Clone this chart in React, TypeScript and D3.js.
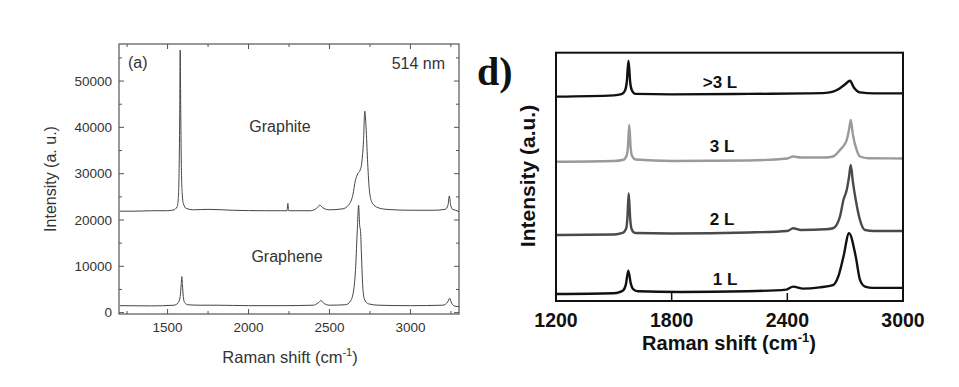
import React from 'react';
import * as d3 from 'd3';

// panel (a): graphite / graphene at 514 nm
const graphiteShift = [1205, 1300, 1400, 1500, 1540, 1558, 1566, 1571, 1575, 1578, 1581, 1585, 1590, 1598, 1615, 1660, 1750, 1900, 2100, 2238, 2243, 2248, 2380, 2420, 2440, 2460, 2500, 2580, 2620, 2645, 2660, 2675, 2690, 2700, 2710, 2718, 2726, 2735, 2745, 2760, 2790, 2850, 3000, 3150, 3215, 3232, 3240, 3248, 3260, 3280, 3300];
const graphiteIntensity = [21900, 21900, 22000, 22000, 22200, 22800, 24500, 30000, 42000, 56700, 45000, 32000, 26000, 23500, 22500, 22200, 22300, 22100, 22000, 22000, 23600, 22000, 22000, 22500, 23200, 22600, 22200, 22400, 23300, 25500, 28500, 30000, 30800, 32500, 37000, 43500, 40000, 33000, 27000, 24000, 22800, 22300, 22100, 22100, 22300, 23200, 25200, 23300, 22300, 22100, 21800];

const grapheneShift = [1205, 1400, 1540, 1565, 1578, 1584, 1588, 1592, 1597, 1605, 1625, 1700, 1800, 2000, 2200, 2400, 2430, 2448, 2465, 2500, 2600, 2630, 2650, 2662, 2672, 2680, 2686, 2692, 2698, 2705, 2715, 2740, 2800, 3000, 3200, 3230, 3242, 3255, 3275, 3300];
const grapheneIntensity = [1500, 1450, 1600, 2100, 3500, 6000, 7800, 6000, 3500, 2200, 1700, 1600, 1600, 1500, 1500, 1600, 2100, 2600, 2000, 1600, 1700, 2500, 5000, 10000, 18000, 23200, 19000, 17500, 12000, 6000, 3000, 1900, 1600, 1500, 1600, 2300, 3100, 2000, 1400, 1300];

const leftXTicks = [1500, 2000, 2500, 3000];
const leftYTicks = [0, 10000, 20000, 30000, 40000, 50000];

// panel (d): 1 L ... >3 L, arbitrary units, stacked
const layerLabels = ['1 L', '2 L', '3 L', '>3 L'];
const layerColors = ['#111', '#4a4a4a', '#9a9a9a', '#111'];

const shift1L = [1203, 1497, 1530, 1550, 1562, 1575, 1588, 1600, 1625, 1843, 2188, 2395, 2430, 2482, 2568, 2637, 2664, 2691, 2720, 2755, 2777, 2803, 2845, 3000];
const int1L = [2.8, 3.1, 3.6, 4.4, 6.5, 12.2, 7.0, 4.8, 3.9, 3.6, 3.9, 4.6, 5.8, 5.0, 5.5, 6.4, 9.8, 17.8, 27.3, 17.8, 8.5, 5.8, 5.3, 5.3];

const shift2L = [1203, 1500, 1545, 1563, 1570, 1577, 1585, 1592, 1610, 1800, 2200, 2400, 2430, 2470, 2600, 2637, 2673, 2691, 2708, 2720, 2729, 2740, 2755, 2777, 2803, 2850, 3000];
const int2L = [26.6, 26.8, 27.4, 29, 33, 43.4, 33, 29, 27.4, 27.2, 27.6, 28.2, 29.3, 28.6, 28.9, 29.3, 34, 40.7, 44.7, 50, 54.8, 48, 40.7, 32.6, 28.6, 28.2, 28.2];

const shift3L = [1203, 1500, 1550, 1566, 1573, 1580, 1587, 1594, 1612, 1800, 2200, 2400, 2430, 2470, 2600, 2637, 2673, 2708, 2720, 2729, 2740, 2760, 2777, 2820, 3000];
const int3L = [56.1, 56.4, 56.9, 58.5, 62, 70.9, 62, 58.5, 57, 56.4, 56.6, 57.4, 58.2, 57.8, 57.8, 58.2, 60.8, 64.8, 69, 72.9, 67, 60.8, 58.2, 57.5, 57.4];

const shift4L = [1203, 1500, 1540, 1558, 1567, 1576, 1585, 1594, 1612, 1800, 2200, 2500, 2600, 2637, 2673, 2700, 2725, 2745, 2777, 2850, 3000];
const int4L = [82.3, 82.8, 83.3, 84.8, 88, 96.8, 88, 84.8, 83.4, 83.2, 83.4, 83.6, 83.8, 84.3, 85.7, 87.3, 88.7, 86, 84, 83.6, 83.6];

const rightXTicks = [1200, 1800, 2400, 3000];

const layerData = [
  { shift: shift1L, intensity: int1L },
  { shift: shift2L, intensity: int2L },
  { shift: shift3L, intensity: int3L },
  { shift: shift4L, intensity: int4L },
];

const zip = (xs: number[], ys: number[]) => xs.map((x, i) => [x, ys[i]] as [number, number]);

function LeftPanel() {
  const x = d3.scaleLinear().domain([1200, 3300]).range([119, 459]);
  const y = d3.scaleLinear().domain([-300, 58000]).range([314, 44]);
  const line = d3.line<[number, number]>().x(d => x(d[0])).y(d => y(d[1])).curve(d3.curveMonotoneX);
  const font = 'Liberation Sans, Arial, sans-serif';
  const xMinor = d3.range(1250, 3300, 250);
  const yMinor = d3.range(0, 58000, 5000);
  const [x0, x1] = x.range();
  const [y0, y1] = y.range();

  return (
    <g fontFamily={font} fill="#333">
      <path d={line(zip(graphiteShift, graphiteIntensity)) || ''} fill="none" stroke="#444" strokeWidth={1} />
      <path d={line(zip(grapheneShift, grapheneIntensity)) || ''} fill="none" stroke="#444" strokeWidth={1} />
      <rect x={x0} y={y1} width={x1 - x0} height={y0 - y1} fill="none" stroke="#555" strokeWidth={1.2} />
      {xMinor.map(t => {
        const len = t % 500 === 0 ? 5 : 3;
        return (
          <g key={'xt' + t} stroke="#555">
            <line x1={x(t)} x2={x(t)} y1={y0} y2={y0 - len} />
            <line x1={x(t)} x2={x(t)} y1={y1} y2={y1 + len} />
          </g>
        );
      })}
      {yMinor.map(t => {
        const len = t % 10000 === 0 ? 5 : 3;
        return (
          <g key={'yt' + t} stroke="#555">
            <line x1={x0} x2={x0 + len} y1={y(t)} y2={y(t)} />
            <line x1={x1} x2={x1 - len} y1={y(t)} y2={y(t)} />
          </g>
        );
      })}
      {leftXTicks.map(t => (
        <text key={'xl' + t} x={x(t)} y={331.5} fontSize={13.5} textAnchor="middle">{t}</text>
      ))}
      {leftYTicks.map(t => (
        <text key={'yl' + t} x={x0 - 7} y={y(t)} dy="0.35em" fontSize={13.5} textAnchor="end">{t}</text>
      ))}
      <text x={290} y={363} fontSize={16.5} textAnchor="middle">
        Raman shift (cm<tspan fontSize={11} dy={-7}>-1</tspan><tspan dy={7}>)</tspan>
      </text>
      <text transform="translate(56,179) rotate(-90)" fontSize={16} textAnchor="middle">Intensity (a. u.)</text>
      <text x={128} y={68} fontSize={16}>(a)</text>
      <text x={445} y={69} fontSize={16} textAnchor="end">514 nm</text>
      <text x={280} y={131.5} fontSize={16} textAnchor="middle">Graphite</text>
      <text x={287} y={261.5} fontSize={16} textAnchor="middle">Graphene</text>
    </g>
  );
}

function RightPanel() {
  const x = d3.scaleLinear().domain([1200, 3000]).range([556, 903]);
  const y = d3.scaleLinear().domain([0, 100]).range([301, 52.7]);
  const line = d3.line<[number, number]>().x(d => x(d[0])).y(d => y(d[1])).curve(d3.curveMonotoneX);
  const font = 'Liberation Sans, Arial, sans-serif';
  const labelPos = [
    { cx: 725, by: 285 },
    { cx: 722, by: 225 },
    { cx: 722, by: 151.5 },
    { cx: 720, by: 88 },
  ];
  const [x0, x1] = x.range();
  const [y0, y1] = y.range();

  return (
    <g fontFamily={font} fontWeight="bold" fill="#111">
      {layerData.map((d, i) => (
        <path key={'l' + i} d={line(zip(d.shift, d.intensity)) || ''} fill="none" stroke={layerColors[i]} strokeWidth={2.4} />
      ))}
      <rect x={x0} y={y1} width={x1 - x0} height={y0 - y1} fill="none" stroke="#111" strokeWidth={2} />
      {rightXTicks.slice(1, -1).map(t => (
        <line key={'rt' + t} x1={x(t)} x2={x(t)} y1={y0} y2={y0 - 8} stroke="#111" strokeWidth={1.5} />
      ))}
      {rightXTicks.map(t => (
        <text key={'rl' + t} x={x(t)} y={326.5} fontSize={19.5} textAnchor="middle">{t}</text>
      ))}
      {layerLabels.map((l, i) => (
        <text key={'lab' + i} x={labelPos[i].cx} y={labelPos[i].by} fontSize={17} textAnchor="middle">{l}</text>
      ))}
      <text x={729} y={350} fontSize={20} textAnchor="middle">
        Raman shift  (cm<tspan fontSize={13} dy={-8}>-1</tspan><tspan dy={8}>)</tspan>
      </text>
      <text transform="translate(535,176) rotate(-90)" fontSize={21} textAnchor="middle">Intensity (a.u.)</text>
      <text x={477} y={85} fontFamily="Liberation Serif, Times New Roman, serif" fontSize={40} fontWeight="bold">d)</text>
    </g>
  );
}

export default function App() {
  return (
    <svg width={959} height={387} style={{ position: 'absolute', left: 0, top: 0, background: '#fff' }}>
      <rect width={959} height={387} fill="#fff" />
      <LeftPanel />
      <RightPanel />
    </svg>
  );
}
